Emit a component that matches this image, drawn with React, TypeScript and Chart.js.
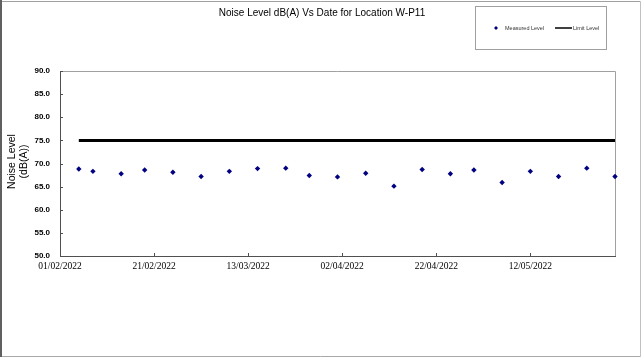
import React, { useEffect, useRef } from "react";
import { Chart, registerables } from "chart.js";

Chart.register(...registerables);

const TITLE = "Noise Level dB(A) Vs Date for Location W-P11";
const Y_TITLE = ["Noise Level", "(dB(A))"];
const SERIES_MEASURED = "Measured Level";
const SERIES_LIMIT = "Limit Level";

const AXIS_START = "01/02/2022";
const AXIS_END = "30/05/2022";
const X_STEP_DAYS = 20;

const Y_MIN = 50;
const Y_MAX = 90;
const Y_STEP = 5;

const DATES = [
  "05/02/2022", "08/02/2022", "14/02/2022", "19/02/2022", "25/02/2022",
  "03/03/2022", "09/03/2022", "15/03/2022", "21/03/2022", "26/03/2022",
  "01/04/2022", "07/04/2022", "13/04/2022", "19/04/2022", "25/04/2022",
  "30/04/2022", "06/05/2022", "12/05/2022", "18/05/2022", "24/05/2022",
  "30/05/2022",
];
const MEASURED = [
  68.8, 68.3, 67.8, 68.6, 68.1,
  67.2, 68.3, 68.9, 69.0, 67.4,
  67.1, 67.9, 65.1, 68.7, 67.8,
  68.6, 65.9, 68.3, 67.2, 69.0,
  67.2,
];
const LIMIT = 75;

const DAY_MS = 86400000;
const parseDate = (s: string) => {
  const [d, m, y] = s.split("/").map(Number);
  return Date.UTC(y, m - 1, d);
};
const START_MS = parseDate(AXIS_START);
const toDay = (s: string) => Math.round((parseDate(s) - START_MS) / DAY_MS);
const fmtDay = (n: number) => {
  const dt = new Date(START_MS + n * DAY_MS);
  const dd = String(dt.getUTCDate()).padStart(2, "0");
  const mm = String(dt.getUTCMonth() + 1).padStart(2, "0");
  return `${dd}/${mm}/${dt.getUTCFullYear()}`;
};

const SANS = "'Liberation Sans', Arial, sans-serif";
const SERIF = "'Liberation Serif', 'Times New Roman', serif";
const NAVY = "#000080";

const decor = {
  id: "decor",
  beforeDatasetsDraw(chart: any) {
    const { ctx, chartArea: a, scales } = chart;
    ctx.save();
    ctx.lineWidth = 1;
    ctx.strokeStyle = "#a0a0a0";
    ctx.beginPath();
    ctx.moveTo(a.left, a.top + 0.5);
    ctx.lineTo(a.right + 0.5, a.top + 0.5);
    ctx.lineTo(a.right + 0.5, a.bottom);
    ctx.stroke();
    ctx.strokeStyle = "#505050";
    ctx.beginPath();
    ctx.moveTo(a.left + 0.5, a.top);
    ctx.lineTo(a.left + 0.5, a.bottom + 0.5);
    ctx.lineTo(a.right + 1, a.bottom + 0.5);
    ctx.stroke();
    ctx.beginPath();
    for (const t of scales.x.ticks) {
      const px = Math.round(scales.x.getPixelForValue(t.value)) + 0.5;
      ctx.moveTo(px, a.bottom);
      ctx.lineTo(px, a.bottom - 3);
    }
    for (const t of scales.y.ticks) {
      const py = Math.round(scales.y.getPixelForValue(t.value)) + 0.5;
      ctx.moveTo(a.left, py);
      ctx.lineTo(a.left + 3, py);
    }
    ctx.stroke();
    ctx.restore();
  },
  afterDraw(chart: any) {
    const { ctx, chartArea: a, width, height } = chart;
    ctx.save();
    ctx.lineWidth = 1;
    ctx.strokeStyle = "#a0a0a0";
    ctx.beginPath();
    ctx.moveTo(0, 1.5);
    ctx.lineTo(width - 2.5, 1.5);
    ctx.stroke();
    ctx.strokeStyle = "#c0c0c0";
    ctx.beginPath();
    ctx.moveTo(width - 2.5, 1.5);
    ctx.lineTo(width - 2.5, height - 3.5);
    ctx.stroke();
    ctx.strokeStyle = "#a8a8a8";
    ctx.beginPath();
    ctx.moveTo(0, height - 3.5);
    ctx.lineTo(width - 2.5, height - 3.5);
    ctx.stroke();
    ctx.strokeStyle = "#606060";
    ctx.lineWidth = 2;
    ctx.beginPath();
    ctx.moveTo(1, 0);
    ctx.lineTo(1, height - 3);
    ctx.stroke();

    ctx.fillStyle = "#000";
    ctx.font = `10px ${SANS}`;
    ctx.textAlign = "center";
    ctx.textBaseline = "middle";
    ctx.fillText(TITLE, 322, 13);

    ctx.save();
    const cy = (a.top + a.bottom) / 2 - 2;
    ctx.translate(18, cy);
    ctx.rotate(-Math.PI / 2);
    ctx.font = `10.5px ${SANS}`;
    ctx.fillStyle = "#000";
    ctx.fillText(Y_TITLE[0], 0, -6);
    ctx.fillText(Y_TITLE[1], 0, 6);
    ctx.restore();

    ctx.lineWidth = 1;
    ctx.strokeStyle = "#a0a0a0";
    ctx.strokeRect(475.5, 6.5, 131, 43);
    const ly = 28;
    ctx.fillStyle = NAVY;
    ctx.beginPath();
    ctx.moveTo(496, ly - 2);
    ctx.lineTo(498, ly);
    ctx.lineTo(496, ly + 2);
    ctx.lineTo(494, ly);
    ctx.closePath();
    ctx.fill();
    ctx.font = `5.5px ${SANS}`;
    ctx.textAlign = "left";
    ctx.fillStyle = "#333";
    ctx.fillText(SERIES_MEASURED, 505, ly);
    ctx.strokeStyle = "#000";
    ctx.lineWidth = 1.5;
    ctx.beginPath();
    ctx.moveTo(555, ly);
    ctx.lineTo(572, ly);
    ctx.stroke();
    ctx.fillText(SERIES_LIMIT, 573, ly);
    ctx.restore();
  },
};

export default function App() {
  const ref = useRef<HTMLCanvasElement | null>(null);
  useEffect(() => {
    if (!ref.current) return;
    const xs = DATES.map(toDay);
    const chart = new Chart(ref.current, {
      type: "scatter",
      data: {
        datasets: [
          {
            label: SERIES_LIMIT,
            data: xs.map((x) => ({ x, y: LIMIT })),
            showLine: true,
            borderColor: "#000",
            borderWidth: 3,
            pointRadius: 0,
            clip: false,
          } as any,
          {
            label: SERIES_MEASURED,
            data: xs.map((x, i) => ({ x, y: MEASURED[i] })),
            pointStyle: "rectRot",
            pointRadius: 2.7,
            backgroundColor: NAVY,
            borderColor: NAVY,
            borderWidth: 0,
            clip: false,
          } as any,
        ],
      },
      options: {
        responsive: false,
        animation: false,
        layout: { padding: { left: 0, right: 28, top: 71, bottom: 0 } },
        plugins: { legend: { display: false }, title: { display: false }, tooltip: { enabled: false } },
        scales: {
          x: {
            type: "linear",
            min: 0,
            max: toDay(AXIS_END),
            grid: { display: false, drawTicks: false },
            border: { display: false },
            afterBuildTicks: (s: any) => {
              s.ticks = s.ticks.filter((t: any) => t.value % X_STEP_DAYS === 0);
            },
            afterFit: (s: any) => {
              s.height = 104;
            },
            ticks: {
              stepSize: X_STEP_DAYS,
              autoSkip: false,
              maxRotation: 0,
              padding: 5,
              color: "#000",
              font: { family: SERIF, size: 9.5 },
              callback: (v: any) => fmtDay(Number(v)),
            },
          },
          y: {
            min: Y_MIN,
            max: Y_MAX,
            grid: { display: false, drawTicks: false },
            border: { display: false },
            afterFit: (s: any) => {
              s.width = 60;
            },
            ticks: {
              stepSize: Y_STEP,
              padding: 10,
              color: "#000",
              font: { family: SANS, size: 8, weight: "bold" },
              callback: (v: any) => Number(v).toFixed(1),
            },
          },
        },
      },
      plugins: [decor],
    });
    return () => chart.destroy();
  }, []);
  return (
    <div style={{ position: "fixed", left: 0, top: 0, width: 643, height: 360, background: "#fff" }}>
      <canvas ref={ref} width={643} height={360} style={{ width: 643, height: 360 }} />
    </div>
  );
}
